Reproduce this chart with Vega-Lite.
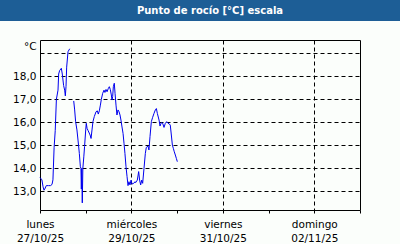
{
  "$schema": "https://vega.github.io/schema/vega-lite/v6.json",
  "padding": 0,
  "background": "#fbfefb",
  "spacing": 19,
  "config": {
    "font": "DejaVu Sans",
    "axis": {"labelFont": "DejaVu Sans", "labelFontSize": 10, "labelColor": "#000000", "titleColor": "#000000"}
  },
  "vconcat": [
    {
      "width": 400,
      "height": 21,
      "view": {"fill": "#1d5e96", "stroke": null},
      "data": {"values": [{"title": "Punto de rocío [°C] escala"}]},
      "mark": {"type": "text", "color": "#ffffff", "font": "DejaVu Sans", "fontWeight": "bold", "fontSize": 10, "dx": 10, "baseline": "middle", "align": "center"},
      "encoding": {"text": {"field": "title", "type": "nominal"}}
    },
    {
      "width": 360,
      "height": 170,
      "view": {"fill": null, "stroke": null},
      "data": {"values": [
        {"t": "2025-10-27T00:00", "v": 13.6},
        {"t": "2025-10-27T01:00", "v": 13.5},
        {"t": "2025-10-27T01:36", "v": 13.2},
        {"t": "2025-10-27T02:06", "v": 13.05},
        {"t": "2025-10-27T02:30", "v": 13.1},
        {"t": "2025-10-27T03:18", "v": 13.25},
        {"t": "2025-10-27T04:30", "v": 13.25},
        {"t": "2025-10-27T05:30", "v": 13.25},
        {"t": "2025-10-27T06:18", "v": 13.3},
        {"t": "2025-10-27T06:48", "v": 13.5},
        {"t": "2025-10-27T07:24", "v": 14.9},
        {"t": "2025-10-27T08:00", "v": 15.65},
        {"t": "2025-10-27T08:36", "v": 17.0},
        {"t": "2025-10-27T09:27", "v": 17.4},
        {"t": "2025-10-27T09:48", "v": 18.1},
        {"t": "2025-10-27T10:18", "v": 18.25},
        {"t": "2025-10-27T11:12", "v": 18.35},
        {"t": "2025-10-27T11:42", "v": 18.1},
        {"t": "2025-10-27T12:24", "v": 17.6},
        {"t": "2025-10-27T12:57", "v": 17.4},
        {"t": "2025-10-27T13:18", "v": 17.15},
        {"t": "2025-10-27T13:39", "v": 17.55},
        {"t": "2025-10-27T14:00", "v": 18.4},
        {"t": "2025-10-27T14:42", "v": 19.07},
        {"t": "2025-10-27T15:36", "v": 19.2},
        {"t": "2025-10-27T16:30", "v": null},
        {"t": "2025-10-27T17:42", "v": 16.93},
        {"t": "2025-10-27T18:12", "v": 16.54},
        {"t": "2025-10-27T18:42", "v": 16.03},
        {"t": "2025-10-27T19:24", "v": 15.67},
        {"t": "2025-10-27T19:57", "v": 15.23},
        {"t": "2025-10-27T20:39", "v": 14.65},
        {"t": "2025-10-27T21:12", "v": 14.07},
        {"t": "2025-10-27T21:30", "v": 14.0},
        {"t": "2025-10-27T21:42", "v": 13.1},
        {"t": "2025-10-27T21:54", "v": 14.0},
        {"t": "2025-10-27T22:12", "v": 12.5},
        {"t": "2025-10-27T22:30", "v": 14.0},
        {"t": "2025-10-27T23:00", "v": 14.5},
        {"t": "2025-10-27T23:24", "v": 14.95},
        {"t": "2025-10-28T00:00", "v": 15.67},
        {"t": "2025-10-28T00:18", "v": 15.96},
        {"t": "2025-10-28T00:42", "v": 15.74},
        {"t": "2025-10-28T01:12", "v": 15.65},
        {"t": "2025-10-28T02:18", "v": 15.45},
        {"t": "2025-10-28T02:48", "v": 15.3},
        {"t": "2025-10-28T03:18", "v": 15.67},
        {"t": "2025-10-28T03:48", "v": 16.03},
        {"t": "2025-10-28T04:30", "v": 16.25},
        {"t": "2025-10-28T05:24", "v": 16.46},
        {"t": "2025-10-28T06:06", "v": 16.5},
        {"t": "2025-10-28T06:36", "v": 16.36},
        {"t": "2025-10-28T07:09", "v": 16.5},
        {"t": "2025-10-28T07:42", "v": 16.75},
        {"t": "2025-10-28T08:12", "v": 17.0},
        {"t": "2025-10-28T08:54", "v": 17.26},
        {"t": "2025-10-28T09:36", "v": 17.4},
        {"t": "2025-10-28T10:06", "v": 17.3},
        {"t": "2025-10-28T10:39", "v": 17.43},
        {"t": "2025-10-28T11:12", "v": 17.33},
        {"t": "2025-10-28T11:54", "v": 17.48},
        {"t": "2025-10-28T12:24", "v": 17.55},
        {"t": "2025-10-28T12:54", "v": 17.43},
        {"t": "2025-10-28T13:27", "v": 17.19},
        {"t": "2025-10-28T13:48", "v": 16.97},
        {"t": "2025-10-28T14:09", "v": 17.12},
        {"t": "2025-10-28T14:30", "v": 17.55},
        {"t": "2025-10-28T15:00", "v": 17.7},
        {"t": "2025-10-28T15:24", "v": 17.26},
        {"t": "2025-10-28T15:54", "v": 16.75},
        {"t": "2025-10-28T16:24", "v": 16.32},
        {"t": "2025-10-28T16:57", "v": 16.54},
        {"t": "2025-10-28T17:30", "v": 16.46},
        {"t": "2025-10-28T18:00", "v": 16.32},
        {"t": "2025-10-28T18:30", "v": 16.1},
        {"t": "2025-10-28T19:03", "v": 15.8},
        {"t": "2025-10-28T19:36", "v": 15.52},
        {"t": "2025-10-28T20:06", "v": 15.09},
        {"t": "2025-10-28T20:36", "v": 14.65},
        {"t": "2025-10-28T21:09", "v": 14.07},
        {"t": "2025-10-28T21:42", "v": 13.64},
        {"t": "2025-10-28T22:12", "v": 13.25},
        {"t": "2025-10-28T22:42", "v": 13.42},
        {"t": "2025-10-28T23:15", "v": 13.28},
        {"t": "2025-10-28T23:48", "v": 13.49},
        {"t": "2025-10-29T00:18", "v": 13.32},
        {"t": "2025-10-29T01:12", "v": 13.35},
        {"t": "2025-10-29T01:54", "v": 13.42},
        {"t": "2025-10-29T02:12", "v": 13.38},
        {"t": "2025-10-29T03:06", "v": 13.49},
        {"t": "2025-10-29T03:48", "v": 13.86},
        {"t": "2025-10-29T04:18", "v": 13.49},
        {"t": "2025-10-29T04:51", "v": 13.28},
        {"t": "2025-10-29T05:24", "v": 13.49},
        {"t": "2025-10-29T05:54", "v": 13.35},
        {"t": "2025-10-29T06:36", "v": 14.0},
        {"t": "2025-10-29T07:18", "v": 14.65},
        {"t": "2025-10-29T07:48", "v": 14.91},
        {"t": "2025-10-29T08:42", "v": 14.97},
        {"t": "2025-10-29T09:12", "v": 14.8},
        {"t": "2025-10-29T09:45", "v": 15.38},
        {"t": "2025-10-29T10:27", "v": 16.03},
        {"t": "2025-10-29T11:09", "v": 16.22},
        {"t": "2025-10-29T11:51", "v": 16.39},
        {"t": "2025-10-29T12:33", "v": 16.54},
        {"t": "2025-10-29T13:06", "v": 16.6},
        {"t": "2025-10-29T13:36", "v": 16.39},
        {"t": "2025-10-29T14:30", "v": 16.1},
        {"t": "2025-10-29T15:00", "v": 15.84},
        {"t": "2025-10-29T15:42", "v": 15.99},
        {"t": "2025-10-29T16:24", "v": 15.96},
        {"t": "2025-10-29T17:06", "v": 15.78},
        {"t": "2025-10-29T17:48", "v": 15.96},
        {"t": "2025-10-29T18:30", "v": 16.03},
        {"t": "2025-10-29T19:12", "v": 15.96},
        {"t": "2025-10-29T19:54", "v": 15.93},
        {"t": "2025-10-29T20:24", "v": 15.88},
        {"t": "2025-10-29T20:57", "v": 15.45},
        {"t": "2025-10-29T21:30", "v": 15.01},
        {"t": "2025-10-29T22:00", "v": 14.87},
        {"t": "2025-10-29T22:30", "v": 14.72},
        {"t": "2025-10-29T23:03", "v": 14.58},
        {"t": "2025-10-29T23:36", "v": 14.43},
        {"t": "2025-10-30T00:06", "v": 14.29}
      ]},
      "mark": {"type": "line", "color": "#0000ee", "strokeWidth": 1, "clip": true},
      "encoding": {
        "x": {
          "field": "t", "type": "temporal",
          "scale": {"domain": [{"year": 2025, "month": "oct", "date": 27}, {"year": 2025, "month": "nov", "date": 3}], "nice": false, "range": [40, 360]},
          "axis": {
            "title": null,
            "values": [
              {"year": 2025, "month": "oct", "date": 27},
              {"year": 2025, "month": "oct", "date": 28},
              {"year": 2025, "month": "oct", "date": 29},
              {"year": 2025, "month": "oct", "date": 30},
              {"year": 2025, "month": "oct", "date": 31},
              {"year": 2025, "month": "nov", "date": 1},
              {"year": 2025, "month": "nov", "date": 2},
              {"year": 2025, "month": "nov", "date": 3}
            ],
            "labelExpr": "(date(datum.value) == 27 && month(datum.value) == 9) || (date(datum.value) == 29) || (date(datum.value) == 31) || (date(datum.value) == 2 && month(datum.value) == 10) ? [['domingo','lunes','martes','miércoles','jueves','viernes','sábado'][day(datum.value)], timeFormat(datum.value, '%d/%m/%y')] : ''",
            "labelLineHeight": 14,
            "labelBaseline": "top",
            "labelPadding": 6,
            "labelFontSize": 10.5,
            "labelFlush": false,
            "labelOverlap": false,
            "tickSize": 3,
            "tickColor": "#000000",
            "domainColor": "#000000",
            "grid": true,
            "gridColor": "#000000",
            "gridDash": {"condition": {"test": "date(datum.value) == 3", "value": []}, "value": [4, 3]},
            "gridOpacity": {"condition": {"test": "date(datum.value) == 29 || date(datum.value) == 31 || date(datum.value) == 2 || date(datum.value) == 3", "value": 1}, "value": 0}
          }
        },
        "y": {
          "field": "v", "type": "quantitative",
          "scale": {"domain": [12.19, 19.58], "nice": false, "zero": false},
          "axis": {
            "title": "°C",
            "offset": -40,
            "titleAngle": 0,
            "titleX": -4,
            "titleY": 6,
            "titleAlign": "right",
            "titleBaseline": "middle",
            "titleFontWeight": "normal",
            "titleFont": "DejaVu Sans",
            "titleFontSize": 10.5,
            "values": [13, 14, 15, 16, 17, 18, 19, 19.58],
            "labelExpr": "datum.value >= 19 ? '' : replace(format(datum.value, '.1f'), '.', ',')",
            "labelFontSize": 10.5,
            "ticks": false,
            "tickSize": 0,
            "labelPadding": 4,
            "domainColor": "#000000",
            "grid": true,
            "gridColor": "#000000",
            "gridDash": {"condition": {"test": "datum.value > 19.5", "value": []}, "value": [4, 3]},
            "gridOpacity": 1
          }
        }
      }
    }
  ]
}
